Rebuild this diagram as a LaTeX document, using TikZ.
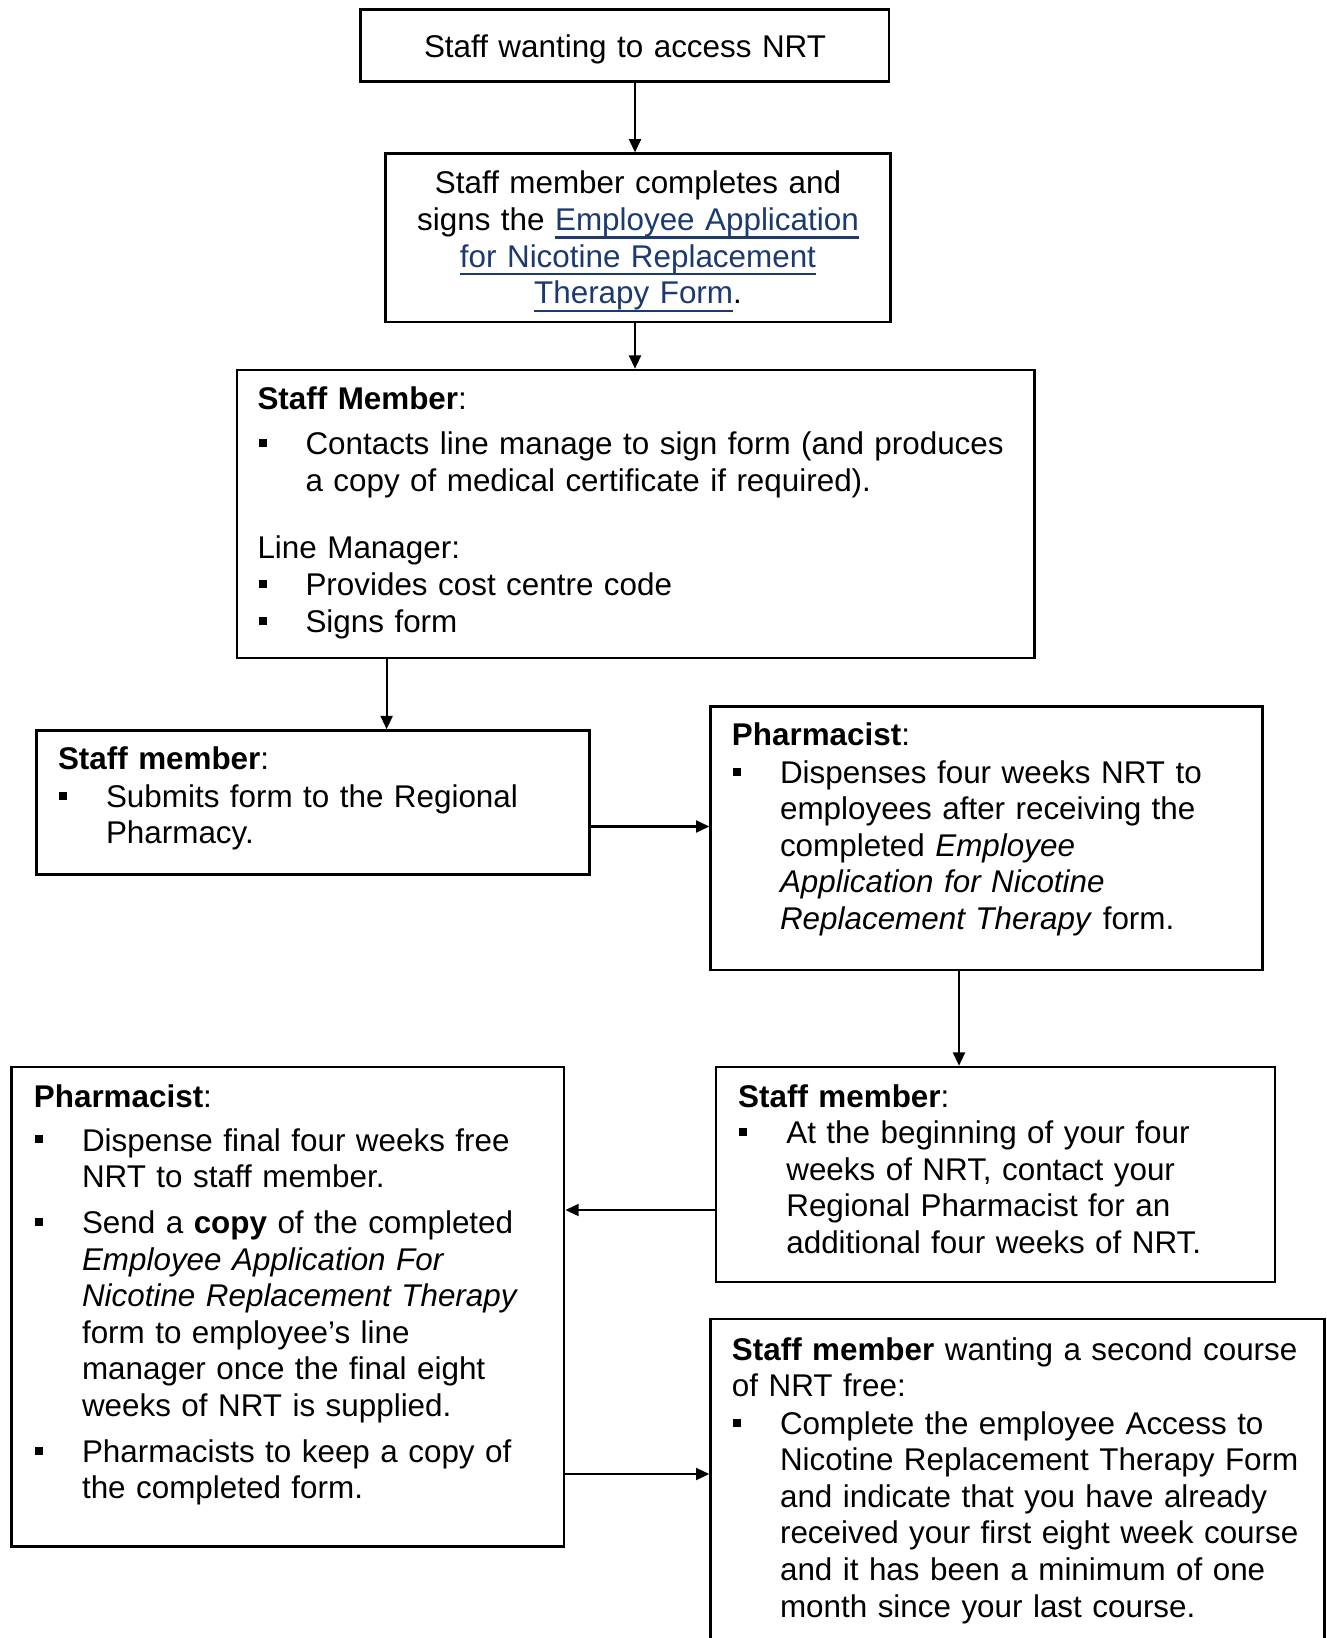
\documentclass[tikz,border=0pt]{standalone}
\usepackage{fontspec}
\setmainfont{Liberation Sans}
\usetikzlibrary{arrows.meta,fit}
\definecolor{linkblue}{RGB}{28,58,112}
\newcommand{\bul}{\leavevmode\llap{\rule[2.9pt]{3pt}{3pt}\hspace{14.7pt}}}
\newcommand{\lnk}[1]{\textcolor{linkblue}{\setbox0\hbox{#1}\rlap{\rule[-3.1pt]{\wd0}{0.9pt}}\box0}}
\begin{document}
\begin{tikzpicture}[x=0.37736pt,y=-0.37736pt,
  box/.style={draw=black,line width=0.9pt,inner sep=0pt},
  txt/.style={anchor=base west,inner sep=0pt,align=left,text width=300pt,font=\fontsize{11.85pt}{13.8pt}\selectfont},
  ctxt/.style={anchor=base,inner sep=0pt,align=center,text width=300pt,font=\fontsize{11.85pt}{13.8pt}\selectfont},
  arr/.style={line width=0.8pt,-{Triangle[length=5pt,width=4.5pt]}}]
\useasboundingbox (0,0) rectangle (1326,1638);
\clip (0,0) rectangle (1326,1638);
\fill[white] (0,0) rectangle (1326,1638);
% boxes
\coordinate (p1a) at (360.5,9.4);   \coordinate (p1b) at (889.2,81.5);
\coordinate (p2a) at (385.6,153.6); \coordinate (p2b) at (890.3,321.8);
\coordinate (p3a) at (237.2,369.9); \coordinate (p3b) at (1034.5,658.3);
\coordinate (p4a) at (36.6,730.4);  \coordinate (p4b) at (589.3,874.6);
\coordinate (p5a) at (710.5,706.4); \coordinate (p5b) at (1262.3,969.7);
\coordinate (p6a) at (715.8,1066.9);\coordinate (p6b) at (1274.8,1282.1);
\coordinate (p7a) at (11.5,1066.9); \coordinate (p7b) at (564.2,1546.5);
\coordinate (p8a) at (710.5,1318.7);\coordinate (p8b) at (1324.5,1700);
\node[box,fit=(p1a)(p1b)] (b1) {};
\node[box,fit=(p2a)(p2b)] (b2) {};
\node[box,fit=(p3a)(p3b)] (b3) {};
\node[box,fit=(p4a)(p4b)] (b4) {};
\node[box,fit=(p5a)(p5b)] (b5) {};
\node[box,fit=(p6a)(p6b)] (b6) {};
\node[box,fit=(p7a)(p7b)] (b7) {};
\node[box,fit=(p8a)(p8b)] (b8) {};
% texts
\node[ctxt] (t1) at (625,57.3) {Staff wanting to access NRT};
\node[ctxt] (t2) at (638,194) {Staff member completes and\\signs the \lnk{Employee Application}\\\lnk{for Nicotine Replacement}\\\lnk{Therapy Form}.};
\node[txt] (t3h) at (257,410) {\textbf{Staff Member}:};
\node[txt] (t3a) at (305,455) {\bul Contacts line manage to sign form (and produces\\a copy of medical certificate if required).};
\node[txt] (t3m) at (257,558.5) {Line Manager:};
\node[txt] (t3b) at (305,596) {\bul Provides cost centre code};
\node[txt] (t3c) at (305,632.7) {\bul Signs form};
\node[txt] (t4h) at (57.5,769.6) {\textbf{Staff member}:};
\node[txt] (t4a) at (105.5,807.2) {\bul Submits form to the Regional\\Pharmacy.};
\node[txt] (t5h) at (731.4,745.6) {\textbf{Pharmacist}:};
\node[txt] (t5a) at (779.5,783.2) {\bul Dispenses four weeks NRT to\\employees after receiving the\\completed \textit{Employee}\\\textit{Application for Nicotine}\\\textit{Replacement Therapy} form.};
\node[txt] (t6h) at (737.7,1107) {\textbf{Staff member}:};
\node[txt] (t6a) at (785.8,1143.7) {\bul At the beginning of your four\\weeks of NRT, contact your\\Regional Pharmacist for an\\additional four weeks of NRT.};
\node[txt] (t7h) at (33.4,1107) {\textbf{Pharmacist}:};
\node[txt] (t7a) at (81.5,1151) {\bul Dispense final four weeks free\\NRT to staff member.};
\node[txt] (t7b) at (81.5,1233.5) {\bul Send a \textbf{copy} of the completed\\\textit{Employee Application For}\\\textit{Nicotine Replacement Therapy}\\form to employee’s line\\manager once the final eight\\weeks of NRT is supplied.};
\node[txt] (t7c) at (81.5,1462.4) {\bul Pharmacists to keep a copy of\\the completed form.};
\node[txt] (t8h) at (731.4,1360) {\textbf{Staff member} wanting a second course\\of NRT free:};
\node[txt] (t8a) at (779.5,1434.2) {\bul Complete the employee Access to\\Nicotine Replacement Therapy Form\\and indicate that you have already\\received your first eight week course\\and it has been a minimum of one\\month since your last course.};
% connectors
\coordinate (ax1) at (635,0);
\coordinate (ax2) at (386.6,0);
\coordinate (ax3) at (959,0);
\coordinate (ay1) at (0,826.5);
\coordinate (ay2) at (0,1210);
\coordinate (ay3) at (0,1474);
\draw[arr] (b1.south -| ax1) -- (b2.north -| ax1);
\draw[arr] (b2.south -| ax1) -- (b3.north -| ax1);
\draw[arr] (b3.south -| ax2) -- (b4.north -| ax2);
\draw[arr] (b4.east |- ay1) -- (b5.west |- ay1);
\draw[arr] (b5.south -| ax3) -- (b6.north -| ax3);
\draw[arr] (b6.west |- ay2) -- (b7.east |- ay2);
\draw[arr] (b7.east |- ay3) -- (b8.west |- ay3);
\end{tikzpicture}
\end{document}
